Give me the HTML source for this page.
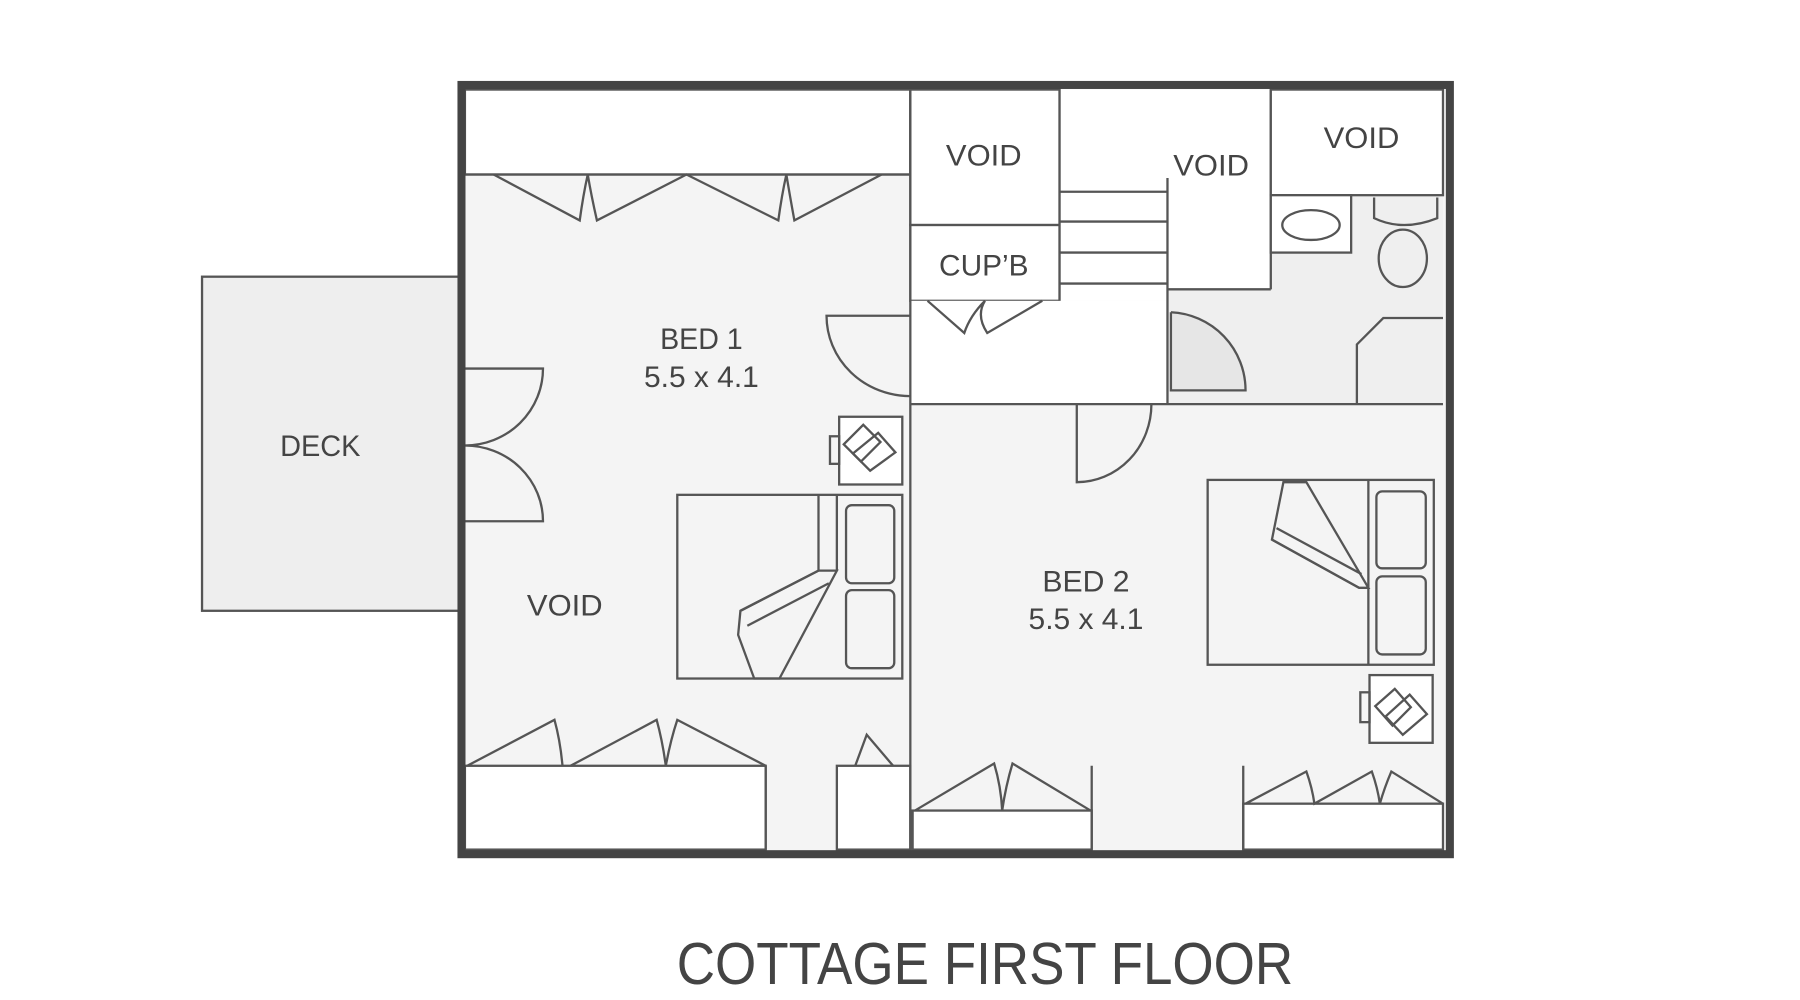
<!DOCTYPE html>
<html><head><meta charset="utf-8"><style>
html,body{margin:0;padding:0;background:#fff;width:1800px;height:1000px;overflow:hidden}
svg{display:block}
text{font-family:"Liberation Sans","DejaVu Sans",sans-serif;fill:#444;text-anchor:middle}
</style></head><body>
<svg width="1800" height="1000" viewBox="0 0 1568 871" preserveAspectRatio="none" xmlns="http://www.w3.org/2000/svg">
<g stroke="#555" stroke-width="2" fill="none">
<rect x="176" y="241" width="224" height="291" fill="#eeeeee"/>
<rect x="402" y="74" width="861" height="670" fill="#f4f4f4" stroke="none"/>
<rect x="1017" y="170" width="240" height="182" fill="#efefef" stroke="none"/>
<rect x="405" y="78" width="388" height="74" fill="#fff"/>
<rect x="793" y="78" width="130" height="118" fill="#fff"/>
<rect x="793" y="196" width="130" height="66" fill="#fff"/>
<rect x="923" y="78" width="94" height="184" fill="#fff" stroke="none"/>
<rect x="1017" y="78" width="90" height="174" fill="#fff" stroke="none"/>
<rect x="793" y="262" width="224" height="90" fill="#fff" stroke="none"/>
<line x1="1107" y1="78" x2="1107" y2="252"/>
<line x1="1017" y1="252" x2="1107" y2="252"/>
<rect x="1107" y="78" width="150" height="92" fill="#fff"/>
<rect x="405" y="667" width="262" height="73" fill="#fff"/>
<rect x="729" y="667" width="64" height="73" fill="#fff"/>
<rect x="795" y="706" width="156" height="34" fill="#fff"/>
<rect x="1083" y="700" width="174" height="40" fill="#fff"/>
<line x1="405" y1="152" x2="793" y2="152"/>
<line x1="793" y1="78" x2="793" y2="740"/>
<line x1="923" y1="78" x2="923" y2="262"/>
<line x1="1017" y1="155" x2="1017" y2="352"/>
<line x1="793" y1="352" x2="1257" y2="352"/>
<line x1="951" y1="667" x2="951" y2="740"/>
<line x1="1083" y1="667" x2="1083" y2="740"/>
<line x1="667" y1="667" x2="667" y2="740"/>
<line x1="923" y1="167" x2="1017" y2="167"/>
<line x1="923" y1="193" x2="1017" y2="193"/>
<line x1="923" y1="220" x2="1017" y2="220"/>
<line x1="923" y1="247" x2="1017" y2="247"/>
<path d="M430,152 L505,192 Q508,170 512,152 Q515,170 520,192 L598,152 L678,192 Q681,170 685,152 Q688,170 692,192 L768,152"/>
<path d="M808,262 L840,290 Q845,275 858,262 Q850,275 860,290 L908,262"/>
<rect x="1107" y="170" width="70" height="50" fill="#fff"/>
<ellipse cx="1142" cy="196" rx="25" ry="13"/>
<path d="M1197,172 L1197,190 Q1222,202 1252,190 L1252,172"/>
<ellipse cx="1222" cy="225" rx="21" ry="25"/>
<path d="M1020,272 L1020,340 L1085,340 A68,68 0 0 0 1020,272" fill="#e6e6e6"/>
<path d="M1182,352 L1182,300 L1205,277 L1257,277"/>
<path d="M793,275 L720,275 A73,70 0 0 0 793,345"/>
<path d="M938,352 L938,420 A65,68 0 0 0 1003,352"/>
<path d="M405,321 L473,321 A68,67 0 0 1 405,388 A68,66 0 0 1 473,454 L405,454"/>
<rect x="731" y="363" width="55" height="59" fill="#fff"/>
<rect x="723" y="380" width="8" height="24"/>
<path d="M735,387 L752,370 L767,385 L750,402 Z"/>
<path d="M743,395 L765,377 L780,394 L758,410 Z"/>
<rect x="590" y="431" width="196" height="160"/>
<line x1="713" y1="431" x2="713" y2="497"/>
<line x1="729" y1="431" x2="729" y2="497"/>
<rect x="737" y="440" width="42" height="68" rx="5"/>
<rect x="737" y="514" width="42" height="68" rx="5"/>
<path d="M713,497 L729,497 L679,591 L657,591 L643,553 L645,532 Z"/>
<path d="M645,532 L713,497 M651,545 L722,508"/>
<path d="M407,667 L483,627 Q488,645 490,667 M497,667 L572,627 Q577,645 580,667 Q584,645 590,627 L667,667"/>
<path d="M745,667 L755,640 L778,667"/>
<rect x="1052" y="418" width="197" height="161"/>
<line x1="1192" y1="418" x2="1192" y2="579"/>
<rect x="1199" y="428" width="43" height="67" rx="5"/>
<rect x="1199" y="502" width="43" height="68" rx="5"/>
<path d="M1118,420 L1138,420 L1192,512 L1184,512 L1108,470 Z"/>
<path d="M1108,470 L1184,512 M1112,460 L1186,500"/>
<rect x="1193" y="588" width="55" height="59" fill="#fff"/>
<rect x="1185" y="603" width="8" height="26"/>
<path d="M1198,615 L1215,600 L1229,616 L1213,632 Z"/>
<path d="M1207,624 L1228,605 L1243,622 L1222,640 Z"/>
<path d="M797,706 L866,665 Q872,685 873,706 Q876,685 882,665 L950,706"/>
<path d="M1085,700 L1138,672 Q1143,686 1145,700 L1195,672 Q1200,686 1202,700 Q1206,686 1212,672 L1257,700"/>
</g>
<rect x="402" y="74" width="861" height="670" fill="none" stroke="#444" stroke-width="7"/>
<g font-size="26">
<text x="279" y="397" textLength="70" lengthAdjust="spacingAndGlyphs">DECK</text>
<text x="857" y="144" textLength="66" lengthAdjust="spacingAndGlyphs">VOID</text>
<text x="857" y="240" textLength="78" lengthAdjust="spacingAndGlyphs">CUP’B</text>
<text x="1055" y="153" textLength="66" lengthAdjust="spacingAndGlyphs">VOID</text>
<text x="1186" y="129" textLength="66" lengthAdjust="spacingAndGlyphs">VOID</text>
<text x="611" y="304" textLength="72" lengthAdjust="spacingAndGlyphs">BED 1</text>
<text x="611" y="337" textLength="100" lengthAdjust="spacingAndGlyphs">5.5 x 4.1</text>
<text x="492" y="536" textLength="66" lengthAdjust="spacingAndGlyphs">VOID</text>
<text x="946" y="515" textLength="76" lengthAdjust="spacingAndGlyphs">BED 2</text>
<text x="946" y="548" textLength="100" lengthAdjust="spacingAndGlyphs">5.5 x 4.1</text>
</g>
<text x="858" y="857" font-size="52" textLength="537" lengthAdjust="spacingAndGlyphs">COTTAGE FIRST FLOOR</text>
</svg>
</body></html>
